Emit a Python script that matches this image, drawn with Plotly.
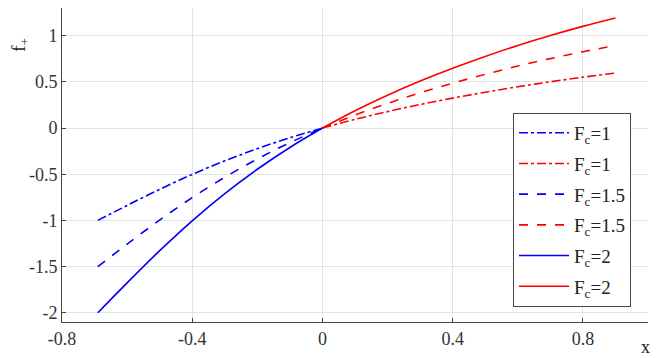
import plotly.graph_objects as go

# x positions of the two branches
x_neg = [-0.69, -0.6, -0.5, -0.4, -0.3, -0.2, -0.1, 0.0]
x_pos = [0.0, 0.1, 0.2, 0.3, 0.4, 0.5, 0.6, 0.7, 0.8, 0.9]

# f+ values
blue_fc1 = [-1.0, -0.838, -0.664, -0.502, -0.355, -0.223, -0.105, 0.0]
blue_fc15 = [-1.5, -1.257, -0.996, -0.753, -0.533, -0.335, -0.158, 0.0]
blue_fc2 = [-2.0, -1.676, -1.328, -1.004, -0.71, -0.446, -0.21, 0.0]
red_fc1 = [0.0, 0.094, 0.178, 0.255, 0.324, 0.388, 0.447, 0.501, 0.551, 0.596]
red_fc15 = [0.0, 0.141, 0.267, 0.382, 0.486, 0.582, 0.671, 0.752, 0.826, 0.893]
red_fc2 = [0.0, 0.188, 0.356, 0.509, 0.648, 0.776, 0.894, 1.002, 1.101, 1.191]

x_ticks = [-0.8, -0.4, 0, 0.4, 0.8]
x_labels = ["-0.8", "-0.4", "0", "0.4", "0.8"]
y_ticks = [-2, -1.5, -1, -0.5, 0, 0.5, 1]
y_labels = ["-2", "-1.5", "-1", "-0.5", "0", "0.5", "1"]

series = [
    (x_neg, blue_fc1, "blue", "dashdot", "F<sub>c</sub>=1"),
    (x_pos, red_fc1, "red", "dashdot", "F<sub>c</sub>=1"),
    (x_neg, blue_fc15, "blue", "dash", "F<sub>c</sub>=1.5"),
    (x_pos, red_fc15, "red", "dash", "F<sub>c</sub>=1.5"),
    (x_neg, blue_fc2, "blue", "solid", "F<sub>c</sub>=2"),
    (x_pos, red_fc2, "red", "solid", "F<sub>c</sub>=2"),
]

SERIF = "Liberation Serif"

fig = go.Figure()
for i, (xs, ys, col, dash, name) in enumerate(series):
    fig.add_trace(go.Scatter(x=xs, y=ys, mode="lines", name=name, legendgroup=f"g{i}",
                             line=dict(color=col, dash=dash, width=1.6, shape="spline")))

axis_common = dict(showgrid=True, gridcolor="#e3e3e3", gridwidth=1,
                   showline=True, linecolor="#444444", linewidth=1,
                   ticks="inside", ticklen=4, tickcolor="#444444",
                   zeroline=False, tickfont=dict(family=SERIF, size=18, color="#333333"))

fig.update_xaxes(range=[-0.8, 1.0], tickvals=x_ticks, ticktext=x_labels, **axis_common)
fig.update_yaxes(range=[-2.1, 1.3], tickvals=y_ticks, ticktext=y_labels, **axis_common)

# page body has an 8px margin, so the figure is a bit smaller than the window
fig.update_layout(
    width=656, height=350,
    margin=dict(l=54, r=16, t=0, b=36),
    plot_bgcolor="white", paper_bgcolor="white",
    font=dict(family=SERIF, color="#222222"),
    showlegend=True,
    legend=dict(x=0.971, y=0.666, xanchor="right", yanchor="top",
                bgcolor="white", bordercolor="#444444", borderwidth=1,
                font=dict(family=SERIF, size=19, color="#222222"), itemwidth=50,
                traceorder="grouped", tracegroupgap=3),
    annotations=[
        dict(text="f<sub>+</sub>", textangle=-90, xref="paper", yref="paper",
             x=-0.072, y=0.882, xanchor="center", yanchor="middle",
             showarrow=False, font=dict(family=SERIF, size=19)),
        dict(text="x", xref="paper", yref="paper", x=0.995, y=-0.08,
             xanchor="center", yanchor="middle", showarrow=False,
             font=dict(family=SERIF, size=18)),
    ],
)

fig.write_html("out.html")
